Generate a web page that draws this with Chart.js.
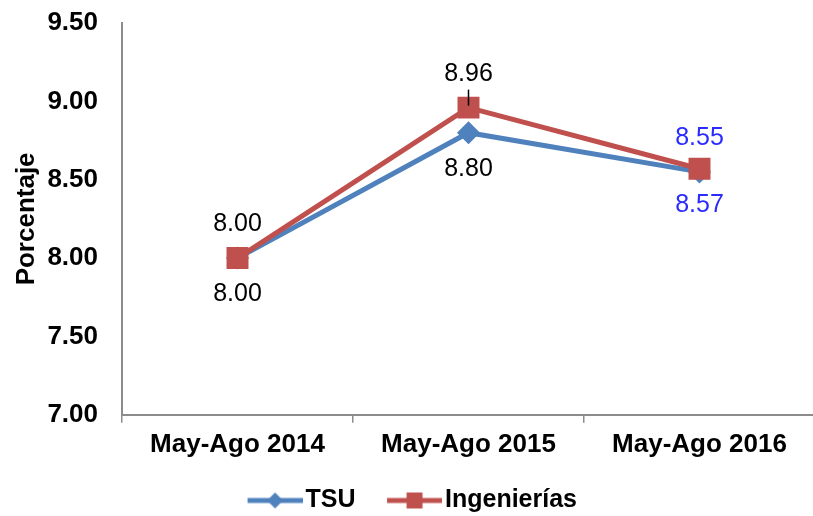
<!DOCTYPE html>
<html>
<head>
<meta charset="utf-8">
<script src="https://cdn.jsdelivr.net/npm/chart.js@4/dist/chart.umd.min.js"></script>
<style>
  html, body { margin: 0; padding: 0; background: #fff; overflow: hidden; }
  #wrap { width: 816px; height: 516px; }
</style>
</head>
<body>
<div id="wrap"><canvas id="chart"></canvas></div>
<script>
var periods = ['May-Ago 2014', 'May-Ago 2015', 'May-Ago 2016'];
var tsu = [8.00, 8.80, 8.55];
var ingenierias = [8.00, 8.96, 8.57];
var yTicks = [7.00, 7.50, 8.00, 8.50, 9.00, 9.50];

// where each value label sits relative to its point
var tsuLabelPos = ['below', 'below', 'above'];
var ingLabelPos = ['above', 'above', 'below'];
var labelColors = ['#000000', '#000000', '#2b2bff'];

var FONT = '"Liberation Sans", Arial, sans-serif';
var BLUE = '#4f81bd';
var RED = '#c0504d';

function legendIcon(color, shape){
  // line + marker, drawn wider than the legend box so the gap to the text is small
  var c = document.createElement('canvas');
  c.width = 74; c.height = 20;
  var g = c.getContext('2d');
  g.strokeStyle = color;
  g.lineWidth = 5;
  g.beginPath(); g.moveTo(19, 10); g.lineTo(74, 10); g.stroke();
  g.fillStyle = color;
  var cx = 46.5;
  g.beginPath();
  if(shape == 'diamond'){
    g.moveTo(cx - 8, 10); g.lineTo(cx, 2); g.lineTo(cx + 8, 10); g.lineTo(cx, 18);
  }else{
    g.rect(cx - 8, 2, 16, 16);
  }
  g.closePath();
  g.fill();
  return c;
}

var icons = [legendIcon(BLUE, 'diamond'), legendIcon(RED, 'square')];

var valueLabels = {
  id: 'valueLabels',
  afterDatasetsDraw: function(chart){
    var ctx = chart.ctx;
    ctx.save();
    ctx.font = '25px ' + FONT;
    ctx.textAlign = 'center';
    ctx.textBaseline = 'middle';
    chart.data.datasets.forEach(function(ds, di){
      var meta = chart.getDatasetMeta(di);
      meta.data.forEach(function(pt, i){
        var dy = ds.labelPos[i] == 'above' ? -34 : 36;
        ctx.fillStyle = labelColors[i];
        ctx.fillText(ds.data[i].toFixed(2), pt.x, pt.y + dy);
        if(ds.leader && ds.leader[i]){
          ctx.strokeStyle = '#000';
          ctx.lineWidth = 1.5;
          ctx.beginPath();
          ctx.moveTo(pt.x, pt.y - 18);
          ctx.lineTo(pt.x, pt.y - 2);
          ctx.stroke();
        }
      });
    });
    ctx.restore();
  }
};

var ctx = document.getElementById('chart');
new Chart(ctx, {
  type: 'line',
  data: {
    labels: periods,
    datasets: [{
      label: 'TSU',
      data: tsu,
      borderColor: BLUE,
      backgroundColor: BLUE,
      borderWidth: 5,
      pointStyle: 'rectRot',
      pointRadius: 8,
      pointHoverRadius: 8,
      order: 1,
      labelPos: tsuLabelPos
    }, {
      label: 'Ingenierías',
      data: ingenierias,
      borderColor: RED,
      backgroundColor: RED,
      borderWidth: 5,
      pointStyle: 'rect',
      pointRadius: 12,
      pointHoverRadius: 12,
      order: 0,
      labelPos: ingLabelPos,
      leader: [false, true, false]
    }]
  },
  options: {
    responsive: true,
    maintainAspectRatio: false,
    animation: false,
    layout: { autoPadding: false, padding: { left: 0, right: 1, top: 0, bottom: -7 } },
    plugins: {
      tooltip: { enabled: false },
      legend: {
        position: 'bottom',
        labels: {
          usePointStyle: true,
          pointStyleWidth: 55,
          padding: 22,
          color: '#000',
          font: { family: FONT, size: 25, weight: 'bold' },
          generateLabels: function(chart){
            var items = Chart.defaults.plugins.legend.labels.generateLabels(chart);
            items.sort(function(a, b){ return a.datasetIndex - b.datasetIndex; });
            items.forEach(function(it){ it.pointStyle = icons[it.datasetIndex]; });
            return items;
          }
        }
      }
    },
    scales: {
      x: {
        offset: true,
        grid: { offset: true, drawOnChartArea: false, drawTicks: true, tickLength: 8, color: '#8c8c8c', lineWidth: 1.5 },
        border: { display: true, color: '#8c8c8c', width: 2 },
        ticks: { color: '#000', padding: 6, maxRotation: 0, font: { family: FONT, size: 26, weight: 'bold' } }
      },
      y: {
        min: 7,
        max: 9.5,
        afterBuildTicks: function(scale){
          scale.ticks = yTicks.map(function(v){ return { value: v }; });
        },
        afterFit: function(scale){
          scale.width = 122;
          scale.paddingTop = 23;
          scale.paddingBottom = 0;
        },
        grid: { drawOnChartArea: false, drawTicks: false },
        border: { display: true, color: '#8c8c8c', width: 2 },
        ticks: {
          color: '#000',
          padding: 24,
          font: { family: FONT, size: 26, weight: 'bold' },
          callback: function(v){ return Number(v).toFixed(2); }
        },
        title: {
          display: true,
          text: 'Porcentaje',
          color: '#000',
          padding: { top: 11, bottom: 0 },
          font: { family: FONT, size: 26, weight: 'bold' }
        }
      }
    }
  },
  plugins: [valueLabels]
});
</script>
</body>
</html>
